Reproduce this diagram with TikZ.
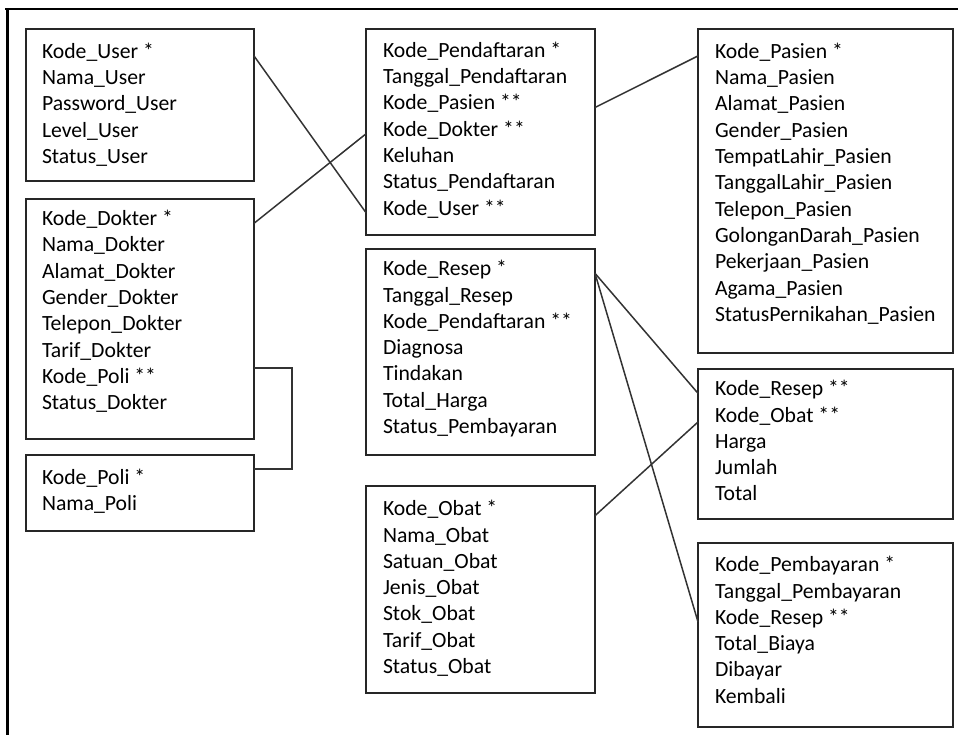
\documentclass[tikz,border=0pt]{standalone}
\usepackage{fontspec}
\setmainfont{Carlito}
\usetikzlibrary{positioning, calc}
\tikzset{
  tablebox/.style={
    rectangle, draw=black!85, line width=1.6pt, anchor=north west,
    inner sep=0pt, outer sep=0pt
  },
  attr/.style={anchor=base west, inner sep=0pt, outer sep=0pt,
    font=\fontsize{21.7}{26}\selectfont, text=black},
  link/.style={draw=black!80, line width=1.5pt},
  frameline/.style={draw=black, line cap=rect}
}

\begin{document}
\begin{tikzpicture}[x=1pt, y=-1pt]
    \useasboundingbox (0,0) rectangle (958,735);
    
    % frame
    \draw[frameline, line width=3pt] (7.5,735) -- (7.5,9.5);
    \draw[frameline, line width=2pt] (6,9.5) -- (958,9.5);
    
    % left column
    \node[tablebox, minimum width=228pt, minimum height=152pt] (user) at (26,29) {};
    \foreach \t [count=\i] in {Kode\_User *, Nama\_User, Password\_User, Level\_User, Status\_User}
    \node[attr] (user-\i) at ([xshift=16pt, yshift={-29.3-26.3*(\i-1)}]user.north west) {\t};
    
    \node[tablebox, minimum width=228pt, minimum height=240pt] (dokter) at (26,199) {};
    \foreach \t [count=\i] in {Kode\_Dokter *, Nama\_Dokter, Alamat\_Dokter, Gender\_Dokter, Telepon\_Dokter, Tarif\_Dokter, Kode\_Poli **, Status\_Dokter}
    \node[attr] (dokter-\i) at ([xshift=16pt, yshift={-26.7-26.3*(\i-1)}]dokter.north west) {\t};
    
    \node[tablebox, minimum width=228pt, minimum height=76pt] (poli) at (26,455) {};
    \foreach \t [count=\i] in {Kode\_Poli *, Nama\_Poli}
    \node[attr] (poli-\i) at ([xshift=16pt, yshift={-29.3-26.3*(\i-1)}]poli.north west) {\t};
    
    % middle column
    \node[tablebox, minimum width=229pt, minimum height=206pt] (pend) at (366,29) {};
    \foreach \t [count=\i] in {Kode\_Pendaftaran *, Tanggal\_Pendaftaran, Kode\_Pasien **, Kode\_Dokter **, Keluhan, Status\_Pendaftaran, Kode\_User **}
    \node[attr] (pend-\i) at ([xshift=17pt, yshift={-28.3-26.3*(\i-1)}]pend.north west) {\t};
    
    \node[tablebox, minimum width=229pt, minimum height=206pt] (resep) at (366,249) {};
    \foreach \t [count=\i] in {Kode\_Resep *, Tanggal\_Resep, Kode\_Pendaftaran **, Diagnosa, Tindakan, Total\_Harga, Status\_Pembayaran}
    \node[attr] (resep-\i) at ([xshift=17pt, yshift={-26.7-26.3*(\i-1)}]resep.north west) {\t};
    
    \node[tablebox, minimum width=229pt, minimum height=207pt] (obat) at (366,486) {};
    \foreach \t [count=\i] in {Kode\_Obat *, Nama\_Obat, Satuan\_Obat, Jenis\_Obat, Stok\_Obat, Tarif\_Obat, Status\_Obat}
    \node[attr] (obat-\i) at ([xshift=17pt, yshift={-29.7-26.3*(\i-1)}]obat.north west) {\t};
    
    % right column
    \node[tablebox, minimum width=255pt, minimum height=324pt] (pasien) at (698,29) {};
    \foreach \t [count=\i] in {Kode\_Pasien *, Nama\_Pasien, Alamat\_Pasien, Gender\_Pasien, TempatLahir\_Pasien, TanggalLahir\_Pasien, Telepon\_Pasien, GolonganDarah\_Pasien, Pekerjaan\_Pasien, Agama\_Pasien, StatusPernikahan\_Pasien}
    \node[attr] (pasien-\i) at ([xshift=17pt, yshift={-29.3-26.3*(\i-1)}]pasien.north west) {\t};
    
    \node[tablebox, minimum width=255pt, minimum height=150pt] (detail) at (698,369) {};
    \foreach \t [count=\i] in {Kode\_Resep **, Kode\_Obat **, Harga, Jumlah, Total}
    \node[attr] (detail-\i) at ([xshift=17pt, yshift={-26.7-26.3*(\i-1)}]detail.north west) {\t};
    
    \node[tablebox, minimum width=255pt, minimum height=184pt] (bayar) at (698,543) {};
    \foreach \t [count=\i] in {Kode\_Pembayaran *, Tanggal\_Pembayaran, Kode\_Resep **, Total\_Biaya, Dibayar, Kembali}
    \node[attr] (bayar-\i) at ([xshift=17pt, yshift={-28.7-26.3*(\i-1)}]bayar.north west) {\t};
    
    % relations
    \draw[link] (user.east |- user-1.mid) -- (pend.west |- pend-7.mid);
    \draw[link] (dokter.east |- dokter-1.mid) -- (pend.west |- pend-4.mid);
    \draw[link] (pend.east |- pend-3.mid) -- (pasien.west |- pasien-1.mid);
    \draw[link] (dokter.east |- dokter-7.north) -- ++(38,0) |- (poli.east |- poli-1.north);
    \draw[link] (resep.east |- resep-1.mid) -- (detail.west |- detail-1.mid);
    \draw[link] (resep.east |- resep-1.mid) -- (bayar.west |- bayar-3.mid);
    \draw[link] (obat.east |- obat-1.base) -- (detail.west |- detail-2.base);
    
\end{tikzpicture}
\end{document}
